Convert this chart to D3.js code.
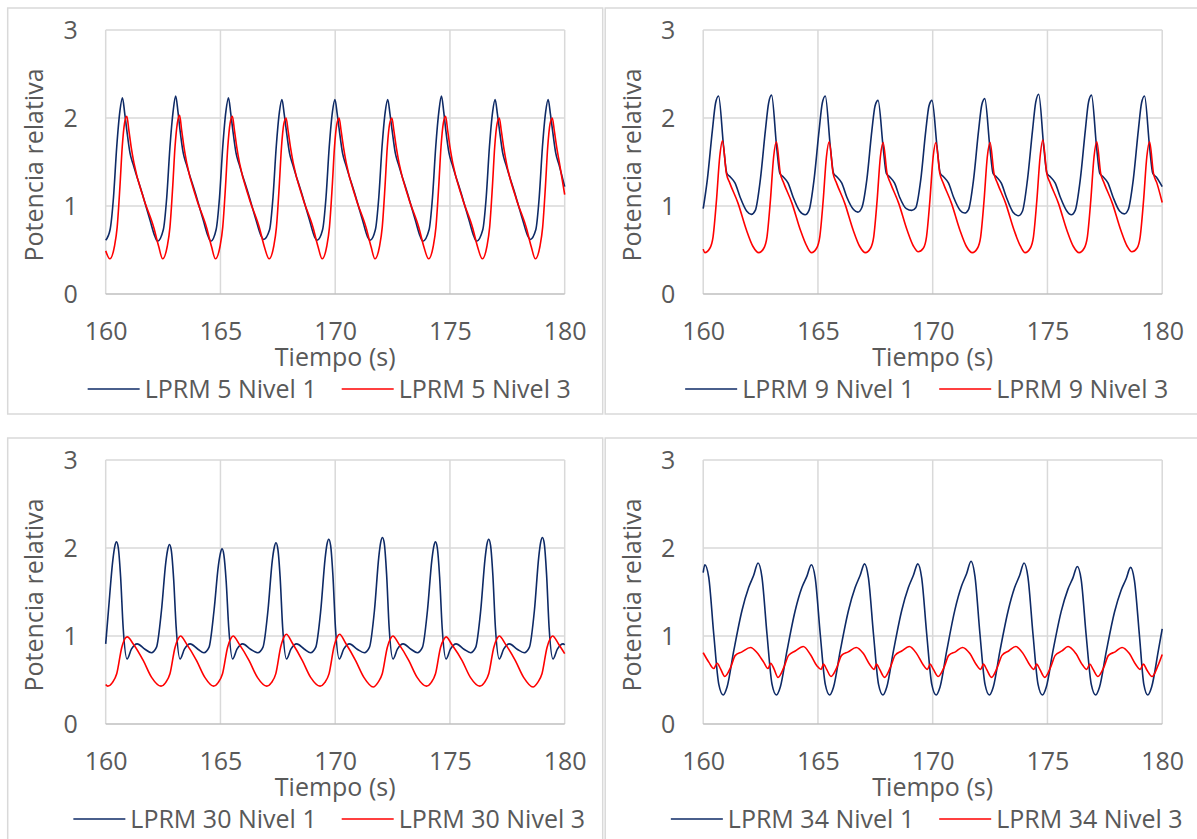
<!DOCTYPE html>
<html>
<head>
<meta charset="utf-8">
<script src="https://cdn.jsdelivr.net/npm/d3@7"></script>
<style>
  body { margin: 0; background: #fff; }
  svg { display: block; }
  text { font-family: "Open Sans", sans-serif; fill: #595959; }
</style>
</head>
<body>
<svg id="chart" width="1197" height="839"></svg>
<script>
// axis ticks
const xTicks = [160, 165, 170, 175, 180]
const yTicks = [0, 1, 2, 3]

// [tiempo (s), potencia relativa]
const lprm5n1 = [[160,0.61],[160.19,0.73],[160.34,1.1],[160.48,1.67],[160.62,2.08],[160.73,2.23],[160.83,2.05],[160.92,1.86],[161.06,1.6],[161.2,1.47],[161.64,1.1],[161.93,0.84],[162.15,0.65],[162.26,0.6],
  [162.51,0.73],[162.66,1.1],[162.8,1.67],[162.94,2.08],[163.05,2.25],[163.15,2.07],[163.24,1.86],[163.38,1.6],[163.52,1.47],[163.96,1.1],[164.25,0.84],[164.47,0.65],[164.58,0.6],
  [164.81,0.73],[164.96,1.1],[165.1,1.67],[165.24,2.08],[165.35,2.23],[165.45,2.05],[165.54,1.86],[165.68,1.6],[165.82,1.47],[166.26,1.1],[166.55,0.84],[166.77,0.66],[166.88,0.62],
  [167.14,0.73],[167.29,1.1],[167.43,1.67],[167.57,2.07],[167.68,2.21],[167.78,2.04],[167.87,1.86],[168.01,1.6],[168.15,1.47],[168.59,1.1],[168.88,0.84],[169.1,0.65],[169.21,0.61],
  [169.45,0.73],[169.6,1.1],[169.74,1.67],[169.88,2.07],[169.99,2.21],[170.09,2.04],[170.18,1.86],[170.32,1.6],[170.46,1.47],[170.9,1.1],[171.19,0.84],[171.41,0.65],[171.52,0.61],
  [171.75,0.73],[171.9,1.1],[172.04,1.67],[172.18,2.07],[172.29,2.21],[172.39,2.04],[172.48,1.86],[172.62,1.6],[172.76,1.47],[173.2,1.1],[173.49,0.84],[173.71,0.65],[173.82,0.6],
  [174.09,0.73],[174.24,1.1],[174.38,1.67],[174.52,2.08],[174.63,2.25],[174.73,2.07],[174.82,1.86],[174.96,1.6],[175.1,1.47],[175.54,1.1],[175.83,0.84],[176.05,0.65],[176.16,0.6],
  [176.43,0.73],[176.58,1.1],[176.72,1.67],[176.86,2.07],[176.97,2.21],[177.07,2.04],[177.16,1.86],[177.3,1.6],[177.44,1.47],[177.88,1.1],[178.17,0.84],[178.39,0.66],[178.5,0.62],
  [178.74,0.73],[178.89,1.1],[179.03,1.67],[179.17,2.07],[179.28,2.21],[179.38,2.04],[179.47,1.86],[179.61,1.6],[179.75,1.47],[180,1.22]]

const lprm5n3 = [[160,0.49],[160.18,0.4],[160.38,0.54],[160.5,0.76],[160.62,1.22],[160.72,1.67],[160.82,1.94],[160.92,2.02],[161.01,1.86],[161.11,1.67],[161.23,1.49],[161.66,1.08],[162.1,0.75],[162.31,0.54],[162.48,0.4],
  [162.68,0.54],[162.8,0.76],[162.92,1.22],[163.02,1.67],[163.12,1.94],[163.22,2.03],[163.31,1.86],[163.41,1.67],[163.53,1.49],[163.96,1.08],[164.4,0.75],[164.61,0.54],[164.78,0.4],
  [164.98,0.54],[165.1,0.76],[165.22,1.22],[165.32,1.67],[165.42,1.94],[165.52,2.02],[165.61,1.86],[165.71,1.67],[165.83,1.49],[166.26,1.08],[166.7,0.75],[166.91,0.54],[167.12,0.4],
  [167.32,0.54],[167.44,0.76],[167.56,1.22],[167.66,1.67],[167.76,1.93],[167.86,2.0],[167.95,1.85],[168.05,1.67],[168.17,1.49],[168.6,1.08],[169.04,0.75],[169.25,0.54],[169.43,0.4],
  [169.63,0.54],[169.75,0.76],[169.87,1.22],[169.97,1.67],[170.07,1.93],[170.17,2.0],[170.26,1.85],[170.36,1.67],[170.48,1.49],[170.91,1.08],[171.35,0.75],[171.56,0.54],[171.73,0.4],
  [171.93,0.54],[172.05,0.76],[172.17,1.22],[172.27,1.67],[172.37,1.93],[172.47,2.0],[172.56,1.85],[172.66,1.67],[172.78,1.49],[173.21,1.08],[173.65,0.75],[173.86,0.54],[174.07,0.4],
  [174.27,0.54],[174.39,0.76],[174.51,1.22],[174.61,1.67],[174.71,1.94],[174.81,2.02],[174.9,1.86],[175.0,1.67],[175.12,1.49],[175.55,1.08],[175.99,0.75],[176.2,0.54],[176.41,0.4],
  [176.61,0.54],[176.73,0.76],[176.85,1.22],[176.95,1.67],[177.05,1.93],[177.15,2.0],[177.24,1.85],[177.34,1.67],[177.46,1.49],[177.89,1.08],[178.33,0.75],[178.54,0.54],[178.72,0.4],
  [178.92,0.54],[179.04,0.76],[179.16,1.22],[179.26,1.67],[179.36,1.93],[179.46,2.0],[179.55,1.85],[179.65,1.67],[179.77,1.49],[180,1.13]]

const lprm9n1 = [[160,0.97],[160.18,1.3],[160.4,1.86],[160.54,2.17],[160.67,2.25],[160.89,1.67],[161.03,1.37],[161.18,1.33],[161.39,1.26],[161.61,1.1],[161.9,0.94],[162.1,0.905],
  [162.27,0.95],[162.49,1.3],[162.71,1.86],[162.85,2.17],[162.98,2.26],[163.2,1.67],[163.34,1.37],[163.49,1.33],[163.7,1.26],[163.92,1.1],[164.21,0.94],[164.44,0.9],
  [164.61,0.95],[164.83,1.3],[165.05,1.86],[165.19,2.17],[165.32,2.25],[165.54,1.67],[165.68,1.37],[165.83,1.33],[166.04,1.26],[166.26,1.1],[166.55,0.96],[166.74,0.93],
  [166.91,0.98],[167.13,1.3],[167.35,1.86],[167.49,2.14],[167.62,2.2],[167.84,1.67],[167.98,1.37],[168.13,1.33],[168.34,1.26],[168.56,1.1],[168.85,0.97],[169.09,0.95],
  [169.26,0.98],[169.48,1.3],[169.7,1.86],[169.84,2.14],[169.97,2.2],[170.19,1.67],[170.33,1.37],[170.48,1.33],[170.69,1.26],[170.91,1.1],[171.2,0.95],[171.39,0.92],
  [171.56,0.96],[171.78,1.3],[172.0,1.86],[172.14,2.15],[172.27,2.22],[172.49,1.67],[172.63,1.37],[172.78,1.33],[172.99,1.26],[173.21,1.1],[173.5,0.93],[173.74,0.89],
  [173.91,0.94],[174.13,1.3],[174.35,1.86],[174.49,2.18],[174.62,2.27],[174.84,1.67],[174.98,1.37],[175.13,1.33],[175.34,1.26],[175.56,1.1],[175.85,0.94],[176.04,0.9],
  [176.21,0.95],[176.43,1.3],[176.65,1.86],[176.79,2.18],[176.92,2.26],[177.14,1.67],[177.28,1.37],[177.43,1.33],[177.64,1.26],[177.86,1.1],[178.15,0.94],[178.35,0.91],
  [178.52,0.96],[178.74,1.3],[178.96,1.86],[179.1,2.17],[179.23,2.25],[179.45,1.67],[179.59,1.37],[179.74,1.33],[180,1.22]]

const lprm9n3 = [[160,0.51],[160.07,0.47],[160.29,0.52],[160.43,0.65],[160.58,1.07],[160.72,1.56],[160.84,1.74],[161.01,1.37],[161.16,1.26],[161.52,1.03],[161.88,0.73],[162.17,0.54],[162.42,0.47],
  [162.64,0.52],[162.78,0.65],[162.93,1.07],[163.07,1.56],[163.19,1.73],[163.36,1.37],[163.51,1.26],[163.87,1.03],[164.23,0.73],[164.52,0.54],[164.72,0.47],
  [164.94,0.52],[165.08,0.65],[165.23,1.07],[165.37,1.56],[165.49,1.73],[165.66,1.37],[165.81,1.26],[166.17,1.03],[166.53,0.73],[166.82,0.54],[167.07,0.47],
  [167.29,0.52],[167.43,0.65],[167.58,1.07],[167.72,1.56],[167.84,1.72],[168.01,1.37],[168.16,1.26],[168.52,1.03],[168.88,0.73],[169.17,0.54],[169.37,0.48],
  [169.59,0.52],[169.73,0.65],[169.88,1.07],[170.02,1.56],[170.14,1.72],[170.31,1.37],[170.46,1.26],[170.82,1.03],[171.18,0.73],[171.47,0.54],[171.73,0.47],
  [171.95,0.52],[172.09,0.65],[172.24,1.07],[172.38,1.56],[172.5,1.72],[172.67,1.37],[172.82,1.26],[173.18,1.03],[173.54,0.73],[173.83,0.54],[174.03,0.47],
  [174.25,0.52],[174.39,0.65],[174.54,1.07],[174.68,1.56],[174.8,1.75],[174.97,1.37],[175.12,1.26],[175.48,1.03],[175.84,0.73],[176.13,0.54],[176.38,0.47],
  [176.6,0.52],[176.74,0.65],[176.89,1.07],[177.03,1.56],[177.15,1.73],[177.32,1.37],[177.47,1.26],[177.83,1.03],[178.19,0.73],[178.48,0.54],[178.68,0.48],
  [178.9,0.52],[179.04,0.65],[179.19,1.07],[179.33,1.56],[179.45,1.73],[179.62,1.37],[179.77,1.26],[180,1.04]]

const lprm30n1 = [[160,0.91],[160.12,1.29],[160.31,1.86],[160.39,2.01],[160.47,2.07],[160.55,2.0],[160.65,1.67],[160.76,1.1],[160.93,0.74],[161.12,0.85],[161.37,0.91],[161.71,0.85],[161.99,0.81],
  [162.21,0.87],[162.43,1.29],[162.62,1.84],[162.7,1.98],[162.78,2.04],[162.86,1.97],[162.96,1.65],[163.07,1.1],[163.24,0.74],[163.43,0.85],[163.68,0.91],[164.02,0.85],[164.28,0.81],
  [164.5,0.87],[164.72,1.29],[164.91,1.8],[164.99,1.93],[165.07,1.99],[165.15,1.92],[165.25,1.62],[165.36,1.1],[165.53,0.74],[165.72,0.85],[165.97,0.91],[166.31,0.85],[166.63,0.81],
  [166.85,0.87],[167.07,1.29],[167.26,1.86],[167.34,2.0],[167.42,2.06],[167.5,1.99],[167.6,1.67],[167.71,1.1],[167.88,0.74],[168.07,0.85],[168.32,0.91],[168.66,0.85],[168.93,0.81],
  [169.15,0.87],[169.37,1.29],[169.56,1.88],[169.64,2.04],[169.72,2.1],[169.8,2.03],[169.9,1.69],[170.01,1.1],[170.18,0.74],[170.37,0.85],[170.62,0.91],[170.96,0.85],[171.27,0.81],
  [171.49,0.87],[171.71,1.29],[171.9,1.9],[171.98,2.06],[172.06,2.12],[172.14,2.05],[172.24,1.7],[172.35,1.1],[172.52,0.74],[172.71,0.85],[172.96,0.91],[173.3,0.85],[173.58,0.81],
  [173.8,0.87],[174.02,1.29],[174.21,1.86],[174.29,2.01],[174.37,2.07],[174.45,2.0],[174.55,1.67],[174.66,1.1],[174.83,0.74],[175.02,0.85],[175.27,0.91],[175.61,0.85],[175.9,0.81],
  [176.12,0.87],[176.34,1.29],[176.53,1.88],[176.61,2.04],[176.69,2.1],[176.77,2.03],[176.87,1.69],[176.98,1.1],[177.15,0.74],[177.34,0.85],[177.59,0.91],[177.93,0.85],[178.24,0.81],
  [178.46,0.87],[178.68,1.29],[178.87,1.9],[178.95,2.06],[179.03,2.12],[179.11,2.05],[179.21,1.7],[179.32,1.1],[179.49,0.74],[179.68,0.85],[179.93,0.91],[180,0.9]]

const lprm30n3 = [[160,0.45],[160.09,0.43],[160.29,0.47],[160.48,0.57],[160.7,0.87],[160.84,0.97],[160.94,0.99],[161.2,0.91],[161.64,0.72],[162.0,0.53],[162.41,0.43],
  [162.61,0.47],[162.8,0.57],[163.02,0.87],[163.16,0.97],[163.26,1.0],[163.52,0.91],[163.96,0.72],[164.32,0.53],[164.7,0.43],
  [164.9,0.47],[165.09,0.57],[165.31,0.87],[165.45,0.97],[165.55,1.0],[165.81,0.91],[166.25,0.72],[166.61,0.53],[167.02,0.43],
  [167.22,0.47],[167.41,0.57],[167.63,0.88],[167.77,0.99],[167.87,1.02],[168.13,0.92],[168.57,0.72],[168.93,0.53],[169.34,0.43],
  [169.54,0.47],[169.73,0.57],[169.95,0.88],[170.09,0.99],[170.19,1.02],[170.45,0.92],[170.89,0.72],[171.25,0.53],[171.66,0.42],
  [171.86,0.47],[172.05,0.57],[172.27,0.87],[172.41,0.97],[172.51,1.0],[172.77,0.91],[173.21,0.72],[173.57,0.53],[173.98,0.43],
  [174.18,0.47],[174.37,0.57],[174.59,0.87],[174.73,0.96],[174.83,0.99],[175.09,0.9],[175.53,0.72],[175.89,0.53],[176.3,0.43],
  [176.5,0.47],[176.69,0.57],[176.91,0.87],[177.05,0.97],[177.15,1.0],[177.41,0.91],[177.85,0.72],[178.21,0.53],[178.62,0.42],
  [178.82,0.47],[179.01,0.57],[179.23,0.87],[179.37,0.97],[179.47,1.0],[179.73,0.91],[180,0.8]]

const lprm34n1 = [[160,1.72],[160.07,1.81],[160.24,1.67],[160.46,1.02],[160.68,0.45],[160.87,0.33],
  [161.04,0.42],[161.33,0.83],[161.69,1.29],[161.98,1.55],[162.2,1.69],[162.39,1.83],[162.56,1.67],[162.78,1.02],[163.0,0.45],[163.19,0.33],
  [163.36,0.42],[163.65,0.83],[164.01,1.29],[164.3,1.55],[164.52,1.68],[164.71,1.81],[164.88,1.66],[165.1,1.02],[165.32,0.45],[165.51,0.33],
  [165.68,0.42],[165.97,0.83],[166.33,1.29],[166.62,1.55],[166.84,1.69],[167.03,1.82],[167.2,1.66],[167.42,1.02],[167.64,0.45],[167.83,0.33],
  [168.0,0.42],[168.29,0.83],[168.65,1.29],[168.94,1.55],[169.16,1.69],[169.35,1.82],[169.52,1.66],[169.74,1.02],[169.96,0.45],[170.15,0.33],
  [170.32,0.42],[170.61,0.83],[170.97,1.3],[171.26,1.57],[171.48,1.71],[171.67,1.85],[171.84,1.68],[172.06,1.02],[172.28,0.45],[172.47,0.33],
  [172.64,0.42],[172.93,0.83],[173.29,1.29],[173.57,1.55],[173.79,1.69],[173.98,1.83],[174.15,1.67],[174.37,1.02],[174.59,0.45],[174.78,0.33],
  [174.95,0.42],[175.24,0.83],[175.6,1.28],[175.89,1.53],[176.11,1.66],[176.3,1.79],[176.47,1.64],[176.69,1.0],[176.91,0.45],[177.1,0.33],
  [177.27,0.42],[177.56,0.82],[177.92,1.27],[178.21,1.52],[178.43,1.65],[178.62,1.78],[178.79,1.63],[179.01,1.0],[179.2,0.45],[179.37,0.33],
  [179.54,0.42],[179.83,0.83],[180,1.08]]

const lprm34n3 = [[160,0.81],[160.25,0.7],[160.46,0.63],[160.61,0.69],[160.75,0.63],[160.94,0.54],
  [161.19,0.64],[161.4,0.78],[161.69,0.82],[162.06,0.87],[162.35,0.81],[162.64,0.7],[162.82,0.63],[162.94,0.69],[163.08,0.63],[163.26,0.53],
  [163.51,0.64],[163.72,0.78],[164.01,0.83],[164.36,0.88],[164.67,0.79],[164.96,0.66],[165.14,0.62],[165.24,0.68],[165.38,0.62],[165.57,0.54],
  [165.82,0.64],[166.03,0.78],[166.32,0.82],[166.67,0.87],[166.98,0.8],[167.27,0.67],[167.45,0.62],[167.55,0.68],[167.69,0.62],[167.9,0.53],
  [168.15,0.64],[168.36,0.78],[168.65,0.83],[168.98,0.88],[169.3,0.8],[169.59,0.67],[169.77,0.62],[169.89,0.68],[170.03,0.62],[170.24,0.54],
  [170.49,0.64],[170.7,0.78],[170.99,0.82],[171.3,0.87],[171.62,0.8],[171.91,0.67],[172.09,0.62],[172.21,0.68],[172.35,0.62],[172.56,0.53],
  [172.81,0.64],[173.02,0.78],[173.31,0.83],[173.62,0.88],[173.94,0.8],[174.23,0.67],[174.41,0.62],[174.53,0.68],[174.67,0.62],[174.88,0.53],
  [175.13,0.64],[175.34,0.78],[175.63,0.83],[175.9,0.88],[176.24,0.8],[176.53,0.67],[176.71,0.62],[176.85,0.68],[176.99,0.62],[177.2,0.54],
  [177.45,0.64],[177.66,0.78],[177.95,0.82],[178.25,0.87],[178.57,0.8],[178.86,0.67],[179.04,0.62],[179.18,0.68],[179.32,0.62],[179.56,0.54],
  [179.81,0.66],[180,0.79]]

const legendNames = [
  ["LPRM 5 Nivel 1", "LPRM 5 Nivel 3"],
  ["LPRM 9 Nivel 1", "LPRM 9 Nivel 3"],
  ["LPRM 30 Nivel 1", "LPRM 30 Nivel 3"],
  ["LPRM 34 Nivel 1", "LPRM 34 Nivel 3"]
]
const seriesColors = ["#0e2a66", "#ff0000"]

const panels = [
  { col: 0, row: 0, series: [lprm5n1, lprm5n3], names: legendNames[0] },
  { col: 1, row: 0, series: [lprm9n1, lprm9n3], names: legendNames[1] },
  { col: 0, row: 1, series: [lprm30n1, lprm30n3], names: legendNames[2] },
  { col: 1, row: 1, series: [lprm34n1, lprm34n3], names: legendNames[3] }
]

const svg = d3.select("#chart")
const frame = { left: 7.7, top: 8, width: 595, height: 406, stepX: 597.5, stepY: 430 }
const plot = { left: 98, top: 22, width: 459, height: 264 }
const grid = "#d9d9d9"

const x = d3.scaleLinear().domain([160, 180]).range([0, plot.width])
const y = d3.scaleLinear().domain([0, 3]).range([plot.height, 0])
const line = d3.line()
  .x(d => x(d[0]))
  .y(d => y(d[1]))
  .curve(d3.curveMonotoneX)

panels.forEach(function(p) {
  const g = svg.append("g")
    .attr("transform", `translate(${frame.left + p.col * frame.stepX},${frame.top + p.row * frame.stepY})`)
  g.append("rect")
    .attr("width", frame.width)
    .attr("height", frame.height)
    .attr("fill", "#fff")
    .attr("stroke", grid)
    .attr("stroke-width", 1.5)

  const pg = g.append("g").attr("transform", `translate(${plot.left},${plot.top})`)

  // gridlines
  pg.selectAll(".vgrid").data(xTicks).join("line")
    .attr("class", "vgrid")
    .attr("x1", d => x(d)).attr("x2", d => x(d))
    .attr("y1", 0).attr("y2", plot.height)
    .attr("stroke", grid).attr("stroke-width", 1.5)
  pg.selectAll(".hgrid").data(yTicks).join("line")
    .attr("class", "hgrid")
    .attr("x1", 0).attr("x2", plot.width)
    .attr("y1", d => y(d)).attr("y2", d => y(d))
    .attr("stroke", d => d === 0 ? "#bfbfbf" : grid).attr("stroke-width", 1.5)

  // axes
  const ax = pg.append("g")
    .attr("transform", `translate(0,${plot.height})`)
    .call(d3.axisBottom(x).tickValues(xTicks).tickSize(0).tickFormat(d3.format("d")))
  ax.select(".domain").remove()
  ax.selectAll("text")
    .attr("y", 37.7).attr("dy", "0.35em")
    .style("font-size", "25px").attr("font-family", null)

  const ay = pg.append("g")
    .call(d3.axisLeft(y).tickValues(yTicks).tickSize(0).tickPadding(28).tickFormat(d3.format("d")))
  ay.select(".domain").remove()
  ay.selectAll("text")
    .attr("dy", "0.35em")
    .style("font-size", "25px").attr("font-family", null)

  pg.append("text")
    .attr("transform", `translate(-71,${plot.height / 2 + 3}) rotate(-90)`)
    .attr("text-anchor", "middle")
    .attr("dy", "0.35em")
    .style("font-size", "25px")
    .text("Potencia relativa")

  pg.append("text")
    .attr("x", plot.width / 2)
    .attr("y", plot.height + 63)
    .attr("text-anchor", "middle")
    .attr("dy", "0.35em")
    .style("font-size", "25px")
    .text("Tiempo (s)")

  // series
  p.series.forEach(function(s, i) {
    pg.append("path")
      .datum(s)
      .attr("fill", "none")
      .attr("stroke", seriesColors[i])
      .attr("stroke-width", 1.6)
      .attr("stroke-linejoin", "round")
      .attr("d", line)
  })

  // legend
  const lg = pg.append("g").attr("transform", `translate(0,${plot.height + 95})`)
  const items = lg.selectAll("g").data(p.names).join("g")
  items.append("line")
    .attr("x1", 0).attr("x2", 52)
    .attr("stroke", (d, i) => seriesColors[i])
    .attr("stroke-width", 1.6)
  items.append("text")
    .attr("x", 57)
    .attr("dy", "0.35em")
    .style("font-size", "25px")
    .text(d => d)
  let widths = []
  items.selectAll("text").each(function() { widths.push(this.getComputedTextLength()) })
  const total = 57 + widths[0] + 25 + 57 + widths[1]
  let cursor = 223.5 - total / 2
  items.attr("transform", function(d, i) {
    const pos = cursor
    cursor += 57 + widths[i] + 25
    return `translate(${pos},0)`
  })
})
</script>
</body>
</html>
